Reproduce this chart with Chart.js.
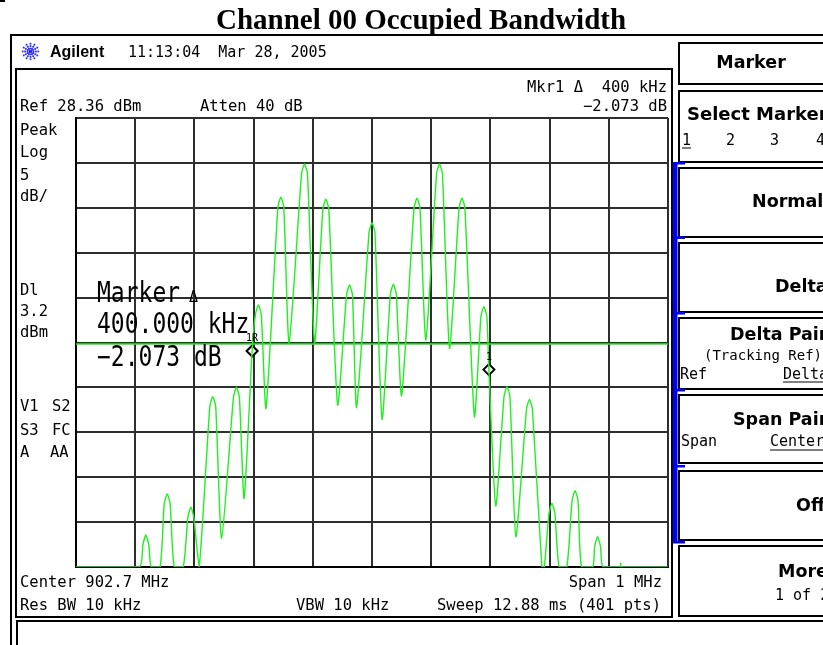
<!DOCTYPE html>
<html>
<head>
<meta charset="utf-8">
<title>Channel 00 Occupied Bandwidth</title>
<script src="https://cdn.jsdelivr.net/npm/chart.js@4"></script>
<style>
  html, body { margin: 0; padding: 0; background: #fff; }
  canvas { display: block; }
</style>
</head>
<body>
<canvas id="sa" width="823" height="645"></canvas>
<script>
// trace: frequency (MHz) and level (dBm), one row per lobe
var traceFreq = [
  902.200, 902.307,
  902.313, 902.318, 902.323, 902.327, 902.342,
  902.349, 902.354, 902.359, 902.366, 902.381,
  902.389, 902.394, 902.399, 902.408,
  902.426, 902.431, 902.436, 902.446,
  902.466, 902.471, 902.476, 902.484, 902.4975,
  902.503, 902.508, 902.513, 902.521,
  902.541, 902.546, 902.551, 902.560,
  902.581, 902.586, 902.591, 902.603,
  902.617, 902.622, 902.627, 902.642,
  902.657, 902.662, 902.667, 902.674,
  902.695, 902.700, 902.705, 902.717,
  902.731, 902.736, 902.741, 902.750,
  902.771, 902.776, 902.781, 902.791,
  902.809, 902.814, 902.819, 902.831,
  902.847, 902.852, 902.857, 902.873,
  902.884, 902.889, 902.894, 902.8975, 902.909,
  902.923, 902.928, 902.933, 902.943,
  902.961, 902.966, 902.971, 902.987, 902.991,
  902.999, 903.004, 903.009, 903.016, 903.029,
  903.038, 903.043, 903.048, 903.054, 903.073,
  903.076, 903.081, 903.086, 903.090,
  903.119, 903.120, 903.121, 903.200
];
var traceLevel = [
  -21.64, -21.64,
  -19.18, -18.08, -19.18, -21.64, -21.64,
  -14.61, -13.51, -14.61, -21.64, -21.64,
  -16.09, -14.99, -16.09, -21.64,
  -3.78, -2.68, -3.78, -18.44,
  -2.73, -1.63, -2.73, -13.99, 2.41,
  6.44, 7.54, 6.44, -3.97,
  18.43, 19.53, 18.43, 3.34,
  22.14, 23.24, 22.14, 3.34,
  18.21, 19.31, 18.21, -3.60,
  8.66, 9.76, 8.66, -3.86,
  15.60, 16.70, 15.60, -5.19,
  8.74, 9.84, 8.74, -2.56,
  18.32, 19.42, 18.32, 3.64,
  22.14, 23.24, 22.14, 2.71,
  18.32, 19.42, 18.32, -4.90,
  6.25, 7.35, 6.25, 0.34, -14.85,
  -2.66, -1.56, -2.66, -18.27,
  -4.07, -2.97, -4.07, -21.64, -21.64,
  -15.65, -14.55, -15.65, -21.64, -21.64,
  -14.24, -13.14, -14.24, -21.64, -21.64,
  -19.37, -18.27, -19.37, -21.64,
  -21.64, -21.25, -21.64, -21.64
];

// graticule: 10 divisions each way
var freqTicks = [902.2, 902.3, 902.4, 902.5, 902.6, 902.7, 902.8, 902.9, 903.0, 903.1, 903.2];
var levelTicks = [28.36, 23.36, 18.36, 13.36, 8.36, 3.36, -1.64, -6.64, -11.64, -16.64, -21.64];

var displayLineLevel = 3.2;
var markerFreq = [902.4975, 902.8975];
var markerLevel = [2.41, 0.34];
var markerNames = ['1R', '1'];

var GREEN = '#1ff01f';
var MONO = '"DejaVu Sans Mono", monospace';
var SANS = '"DejaVu Sans", sans-serif';

function pts(xs, ys) {
  return xs.map(function (x, i) { return { x: x, y: ys[i] }; });
}

function line(ctx, x1, y1, x2, y2, w, c) {
  ctx.beginPath();
  ctx.lineWidth = w;
  ctx.strokeStyle = c || '#000';
  ctx.moveTo(x1, y1);
  ctx.lineTo(x2, y2);
  ctx.stroke();
}

function txt(ctx, s, x, y, font, align) {
  ctx.font = font;
  ctx.textAlign = align || 'left';
  ctx.fillText(s, x, y);
}

// tall narrow text like the analyzer's big marker readout
function tallTxt(ctx, s, x, y, font, sy) {
  ctx.save();
  ctx.translate(x, y);
  ctx.scale(1, sy);
  ctx.font = font;
  ctx.textAlign = 'left';
  ctx.fillText(s, 0, 0);
  ctx.restore();
}

function drawLogo(ctx, cx, cy) {
  ctx.save();
  ctx.fillStyle = '#2b2bff';
  for (var a = 0; a < 12; a++) {
    var ang = a * Math.PI / 6;
    for (var r = 3; r <= 10; r += 2.4) {
      ctx.fillRect(cx + Math.cos(ang) * r - 0.9, cy + Math.sin(ang) * r - 0.9, 1.8, 1.8);
    }
  }
  ctx.fillRect(cx - 1.5, cy - 1.5, 3, 3);
  ctx.restore();
}

var frame = {
  id: 'frame',
  beforeDraw: function (chart) {
    var ctx = chart.ctx;
    ctx.save();
    ctx.fillStyle = '#fff';
    ctx.fillRect(0, 0, chart.width, chart.height);
    ctx.restore();
  },
  afterDraw: function (chart) {
    var ctx = chart.ctx;
    ctx.save();
    ctx.fillStyle = '#000';
    ctx.textBaseline = 'alphabetic';

    ctx.fillRect(0, 0, 5, 2);
    txt(ctx, 'Channel 00 Occupied Bandwidth', 421, 29, 'bold 29px "Liberation Serif", serif', 'center');

    // outer frame
    line(ctx, 10, 35, 823, 35, 2);
    line(ctx, 11, 34, 11, 645, 2);
    // main display box
    ctx.lineWidth = 2;
    ctx.strokeStyle = '#000';
    ctx.strokeRect(16, 69, 656, 548);
    // lower message box
    line(ctx, 16, 621, 823, 621, 2);
    line(ctx, 17, 620, 17, 645, 2);

    // header
    drawLogo(ctx, 30.5, 51.5);
    txt(ctx, 'Agilent', 50, 57, 'bold 16px "Liberation Sans", sans-serif');
    txt(ctx, '11:13:04  Mar 28, 2005', 128, 57, '15px ' + MONO);

    // settings around the graticule
    var f = '15.5px ' + MONO;
    txt(ctx, 'Ref 28.36 dBm', 20, 111, f);
    txt(ctx, 'Atten 40 dB', 200, 111, f);
    txt(ctx, 'Mkr1 \u0394  400 kHz', 667, 92, f, 'right');
    txt(ctx, '\u22122.073 dB', 667, 111, f, 'right');
    [['Peak', 135], ['Log', 157], ['5', 180], ['dB/', 201],
     ['Dl', 295], ['3.2', 316], ['dBm', 337],
     ['V1', 411], ['S3', 435], ['A', 457]].forEach(function (r) { txt(ctx, r[0], 20, r[1], f); });
    txt(ctx, 'S2', 52, 411, f);
    txt(ctx, 'FC', 52, 435, f);
    txt(ctx, 'AA', 50, 457, f);
    txt(ctx, 'Center 902.7 MHz', 20, 587, f);
    txt(ctx, 'Res BW 10 kHz', 20, 610, f);
    txt(ctx, 'VBW 10 kHz', 296, 610, f);
    txt(ctx, 'Span 1 MHz', 662, 587, f, 'right');
    txt(ctx, 'Sweep 12.88 ms (401 pts)', 661, 610, f, 'right');

    // big marker readout
    var big = '23px ' + MONO;
    tallTxt(ctx, 'Marker', 97, 302, big, 1.2);
    txt(ctx, '\u0394', 189, 302, '15px ' + MONO);
    tallTxt(ctx, '400.000 kHz', 97, 333, big, 1.2);
    tallTxt(ctx, '\u22122.073 dB', 97, 366, big, 1.2);

    // marker numbers above the diamonds
    var meta = chart.getDatasetMeta(2);
    meta.data.forEach(function (p, i) {
      txt(ctx, markerNames[i], p.x, p.y - 10, '10px ' + MONO, 'center');
    });

    // softkey panel
    var keys = [[42, 84], [90, 162], [167, 237], [242, 312], [317, 389], [394, 463], [470, 540], [545, 616]];
    keys.forEach(function (k) { ctx.strokeRect(679, k[0] + 1, 170, k[1] - k[0] - 1); });
    ctx.fillStyle = '#0000ff';
    ctx.fillRect(673, 162, 4.5, 381);
    [162, 236.5, 312, 389, 465, 541].forEach(function (y) { ctx.fillRect(673, y, 12, 2.5); });
    ctx.fillStyle = '#000';

    var kb = 'bold 17.5px ' + SANS;
    var kl = '15px ' + MONO;
    txt(ctx, 'Marker', 751, 68, kb, 'center');
    txt(ctx, 'Select Marker', 687, 120, 'bold 18px ' + SANS);
    txt(ctx, '1', 682, 145, kl);
    txt(ctx, '2', 726, 145, kl);
    txt(ctx, '3', 770, 145, kl);
    txt(ctx, '4', 816, 145, kl);
    line(ctx, 682, 148, 691, 148, 1);
    txt(ctx, 'Normal', 752, 207, kb);
    txt(ctx, 'Delta', 775, 292, kb);
    txt(ctx, 'Delta Pair', 730, 340, kb);
    txt(ctx, '(Tracking Ref)', 704, 360, '14px ' + MONO);
    txt(ctx, 'Ref', 680, 379, kl);
    txt(ctx, 'Delta', 783, 379, kl);
    line(ctx, 783, 382, 823, 382, 1);
    txt(ctx, 'Span Pair', 733, 425, kb);
    txt(ctx, 'Span', 681, 446, kl);
    txt(ctx, 'Center', 770, 446, kl);
    line(ctx, 770, 450, 823, 450, 1);
    txt(ctx, 'Off', 796, 511, kb);
    txt(ctx, 'More', 778, 577, kb);
    txt(ctx, '1 of 2', 775, 600, kl);

    ctx.restore();
  }
};

var gridStyle = { color: '#2e2e2e', lineWidth: 2, drawTicks: false };
var borderStyle = { display: true, color: '#000', width: 2 };

new Chart(document.getElementById('sa'), {
  type: 'scatter',
  data: {
    datasets: [
      {
        data: pts(traceFreq, traceLevel),
        showLine: true,
        borderColor: GREEN,
        borderWidth: 1.4,
        pointRadius: 0,
        tension: 0.2
      },
      {
        data: pts([freqTicks[0], freqTicks[freqTicks.length - 1]], [displayLineLevel, displayLineLevel]),
        showLine: true,
        borderColor: GREEN,
        borderWidth: 1.4,
        pointRadius: 0
      },
      {
        data: pts(markerFreq, markerLevel),
        showLine: false,
        pointStyle: 'rectRot',
        pointRadius: 5.5,
        borderColor: '#000',
        borderWidth: 2,
        backgroundColor: '#fff'
      }
    ]
  },
  options: {
    responsive: false,
    devicePixelRatio: 1,
    animation: false,
    events: [],
    layout: { padding: { left: 76, top: 118, right: 155, bottom: 78 } },
    plugins: { legend: { display: false }, tooltip: { enabled: false } },
    scales: {
      x: {
        type: 'linear',
        min: freqTicks[0],
        max: freqTicks[freqTicks.length - 1],
        afterBuildTicks: function (axis) { axis.ticks = freqTicks.map(function (v) { return { value: v }; }); },
        ticks: { display: false },
        grid: gridStyle,
        border: borderStyle
      },
      y: {
        min: levelTicks[levelTicks.length - 1],
        max: levelTicks[0],
        afterBuildTicks: function (axis) { axis.ticks = levelTicks.map(function (v) { return { value: v }; }); },
        ticks: { display: false },
        grid: gridStyle,
        border: borderStyle
      }
    }
  },
  plugins: [frame]
});
</script>
</body>
</html>
